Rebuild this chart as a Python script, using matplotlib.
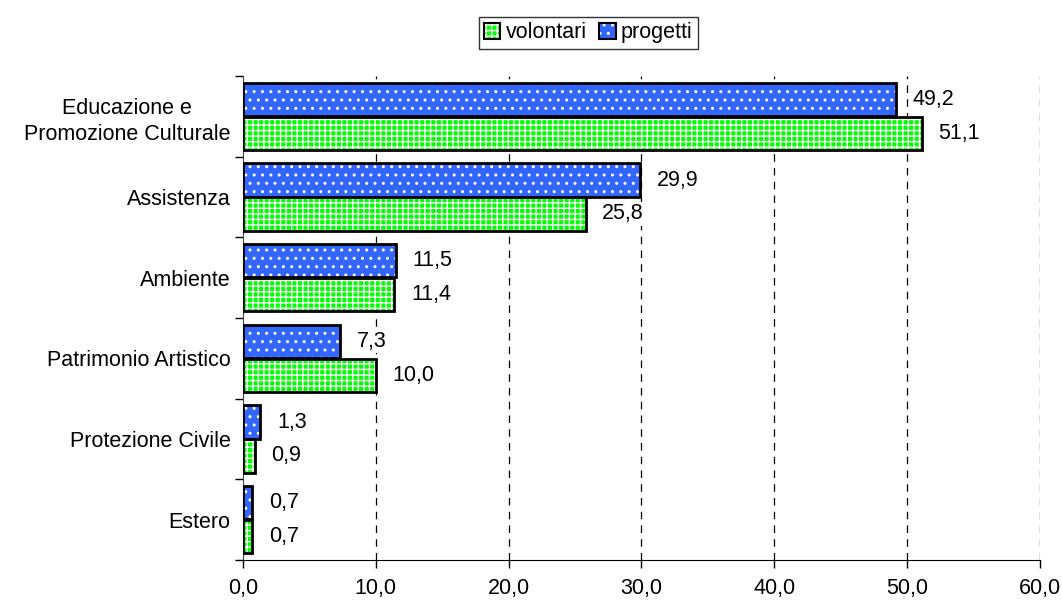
import matplotlib
matplotlib.use("Agg")
import matplotlib.pyplot as plt
from matplotlib.patches import Patch
from matplotlib.legend_handler import HandlerTuple
import numpy as np

categories = ["Educazione e\nPromozione Culturale", "Assistenza", "Ambiente",
              "Patrimonio Artistico", "Protezione Civile", "Estero"]
progetti = [49.2, 29.9, 11.5, 7.3, 1.3, 0.7]
volontari = [51.1, 25.8, 11.4, 10.0, 0.9, 0.7]
xticks = [0, 10, 20, 30, 40, 50, 60]

plt.rcParams["font.family"] = ["Liberation Sans", "DejaVu Sans"]
plt.rcParams["hatch.linewidth"] = 1.0

BLUE = "#3366ff"
GREEN = "#00ff00"
HATCH_B = ".."
HATCH_G = "+++"
FS = 15.5

fig = plt.figure(figsize=(10.62, 6.02), dpi=100)
ax = fig.add_axes([0.2288, 0.0698, 0.7502, 0.804])

y = np.arange(len(categories))
h = 0.415
off = 0.21


def hatched_bars(ypos, vals, color, hatch):
    # patterned fill first, then a plain black outline on top
    ax.barh(ypos, vals, height=h, color=color, hatch=hatch,
            edgecolor="white", linewidth=0, zorder=3)
    return ax.barh(ypos, vals, height=h, fill=False,
                   edgecolor="black", linewidth=2, zorder=4)


hatched_bars(y - off, progetti, BLUE, HATCH_B)
hatched_bars(y + off, volontari, GREEN, HATCH_G)

fmt = lambda v: f"{v:.1f}".replace(".", ",")
for yy, v in zip(y - off, progetti):
    ax.annotate(fmt(v), (v, yy), xytext=(12, 0), textcoords="offset points",
                va="center", ha="left", fontsize=FS, zorder=5,
                bbox=dict(facecolor="white", edgecolor="none", pad=1))
for yy, v in zip(y + off, volontari):
    ax.annotate(fmt(v), (v, yy), xytext=(12, 0), textcoords="offset points",
                va="center", ha="left", fontsize=FS, zorder=5,
                bbox=dict(facecolor="white", edgecolor="none", pad=1))

ax.set_xlim(0, 60)
ax.set_ylim(len(categories) - 0.5, -0.5)
ax.set_xticks(xticks)
ax.set_xticklabels([fmt(t) for t in xticks], fontsize=FS)
ax.set_yticks(y)
ax.set_yticklabels(categories, fontsize=FS, linespacing=1.3,
                   multialignment="center")
ax.set_yticks(np.arange(-0.5, len(categories), 1), minor=True)
ax.tick_params(axis="y", which="major", length=0, pad=9)
ax.tick_params(axis="y", which="minor", length=6, width=1, direction="out")
ax.tick_params(axis="x", length=6, width=1, direction="out", pad=7)

for x in xticks[1:]:
    ax.axvline(x, color="black", linestyle=(0, (6, 5)), linewidth=0.9, zorder=1)

for s in ["top", "right"]:
    ax.spines[s].set_visible(False)
ax.spines["left"].set_color("#444444")
ax.spines["bottom"].set_color("black")


def legend_key(color, hatch):
    fill = Patch(facecolor=color, edgecolor="white", linewidth=0, hatch=hatch)
    edge = Patch(fill=False, edgecolor="black", linewidth=1.5)
    return (fill, edge)


handles = [legend_key(GREEN, HATCH_G), legend_key(BLUE, HATCH_B)]
leg = fig.legend(handles, ["volontari", "progetti"], loc="upper center",
                 bbox_to_anchor=(0.554, 0.972), ncol=2, fontsize=FS,
                 frameon=True, fancybox=False, handlelength=0.75,
                 handleheight=0.75, handletextpad=0.25, columnspacing=0.6,
                 borderpad=0.25, borderaxespad=0,
                 handler_map={tuple: HandlerTuple(ndivide=1, pad=0)})
leg.get_frame().set_edgecolor("black")
leg.get_frame().set_linewidth(1)

fig.savefig("out.png", dpi=100)
